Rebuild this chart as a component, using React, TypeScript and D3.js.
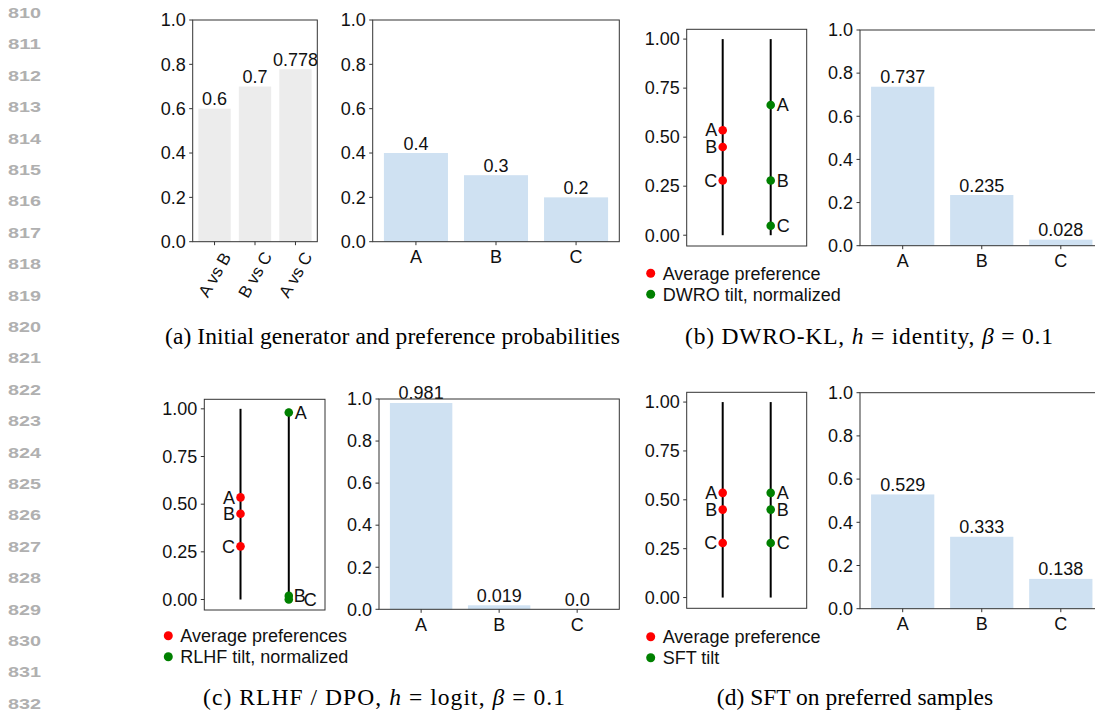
import React from "react";
import * as d3 from "d3";

// ---------- data ----------
const pairCats = ["A vs B", "B vs C", "A vs C"];
const pairProbs = [0.6, 0.7, 0.778];
const respCats = ["A", "B", "C"];
const initGen = [0.4, 0.3, 0.2];
const avgPref = [0.5356, 0.45, 0.2788];
const dwroTilt = [0.664, 0.279, 0.048];
const dwroPolicy = [0.737, 0.235, 0.028];
const rlhfTilt = [0.981, 0.019, 0.0];
const rlhfPolicy = [0.981, 0.019, 0.0];
const sftTilt = [0.5356, 0.45, 0.2788];
const sftPolicy = [0.529, 0.333, 0.138];
const barTicks = [0, 0.2, 0.4, 0.6, 0.8, 1.0];
const dotTicks = [0, 0.25, 0.5, 0.75, 1.0];
const lineNumbers = d3.range(810, 833);

const SANS = "'Liberation Sans', Arial, Helvetica, sans-serif";
const SERIF = "'Liberation Serif', 'Times New Roman', serif";
const FS = 18;
const AX = "#333";
const BLUE = "#cfe1f2";
const GRAY = "#ececec";

const fmtVal = (v: number) => (v === 0 ? "0.0" : String(v));

function BarPanel(props: {
  cats: string[]; vals: number[]; color: string;
  left: number; right: number; yTop: number; yBot: number;
  rotate?: boolean;
}) {
  const { cats, vals, color, left, right, yTop, yBot, rotate } = props;
  const x = d3.scaleLinear().domain([-0.54, cats.length - 1 + 0.54]).range([left, right]);
  const y = d3.scaleLinear().domain([0, 1]).range([yBot, yTop]);
  const f = d3.format(".1f");
  return (
    <g fontFamily={SANS} fontSize={FS}>
      {vals.map((v, i) => (
        <rect key={"b" + i} x={x(i - 0.4)} y={y(v)} width={x(i + 0.4) - x(i - 0.4)} height={y(0) - y(v)} fill={color} />
      ))}
      {vals.map((v, i) => (
        <text key={"v" + i} x={x(i)} y={y(v) - 3.5} textAnchor="middle" fill="#111">{fmtVal(v)}</text>
      ))}
      <rect x={left} y={yTop} width={right - left} height={yBot - yTop} fill="none" stroke={AX} strokeWidth={1} />
      {barTicks.map((t) => (
        <g key={"t" + t}>
          <line x1={left - 3.5} x2={left} y1={y(t)} y2={y(t)} stroke={AX} />
          <text x={left - 7} y={y(t)} dy="0.35em" textAnchor="end" fill="#111">{f(t)}</text>
        </g>
      ))}
      {cats.map((c, i) => (
        <g key={"c" + i}>
          <line x1={x(i)} x2={x(i)} y1={yBot} y2={yBot + 3.5} stroke={AX} />
          {rotate ? (
            <text x={0} y={0} textAnchor="middle" dy="0.35em" fill="#111" fontSize={17}
              transform={`translate(${x(i)},${yBot + 33}) rotate(-60)`}>{c}</text>
          ) : (
            <text x={x(i)} y={yBot + 21.5} textAnchor="middle" fill="#111">{c}</text>
          )}
        </g>
      ))}
    </g>
  );
}

function DotPanel(props: {
  left: number; right: number; top: number; bottom: number;
  red: number[]; green: number[]; greenDx?: number[]; greenDy?: number[];
  legend: [string, string]; legX: number; legY: number;
}) {
  const { left, right, top, bottom, red, green, legend, legX, legY } = props;
  const gdx = props.greenDx || [6, 6, 6];
  const gdy = props.greenDy || [0, 0, 0];
  const x = d3.scaleLinear().domain([-0.75, 1.75]).range([left, right]);
  const y = d3.scaleLinear().domain([-0.055, 1.05]).range([bottom, top]);
  const f = d3.format(".2f");
  return (
    <g fontFamily={SANS} fontSize={FS}>
      <rect x={left} y={top} width={right - left} height={bottom - top} fill="none" stroke={AX} strokeWidth={1} />
      {dotTicks.map((t) => (
        <g key={"t" + t}>
          <line x1={left - 3.5} x2={left} y1={y(t)} y2={y(t)} stroke={AX} />
          <text x={left - 7} y={y(t)} dy="0.35em" textAnchor="end" fill="#111">{f(t)}</text>
        </g>
      ))}
      {[0, 1].map((k) => (
        <line key={"l" + k} x1={x(k)} x2={x(k)} y1={y(0)} y2={y(1)} stroke="#000" strokeWidth={2} />
      ))}
      {red.map((v, i) => (
        <g key={"r" + i}>
          <circle cx={x(0)} cy={y(v)} r={4.3} fill="#ff0000" />
          <text x={x(0) - 5.5} y={y(v)} dy="0.35em" textAnchor="end" fill="#111">{respCats[i]}</text>
        </g>
      ))}
      {green.map((v, i) => (
        <g key={"g" + i}>
          <circle cx={x(1)} cy={y(v)} r={4.3} fill="#008000" />
          <text x={x(1) + gdx[i]} y={y(v) + gdy[i]} dy="0.35em" textAnchor="start" fill="#111">{respCats[i]}</text>
        </g>
      ))}
      <circle cx={legX} cy={legY} r={4.5} fill="#ff0000" />
      <text x={legX + 12} y={legY} dy="0.35em" fill="#111">{legend[0]}</text>
      <circle cx={legX} cy={legY + 21} r={4.5} fill="#008000" />
      <text x={legX + 12} y={legY + 21} dy="0.35em" fill="#111">{legend[1]}</text>
    </g>
  );
}

export default function App() {
  return (
    <svg width={1095} height={717} style={{ position: "absolute", left: 0, top: 0, background: "#fff" }}>
      <rect width={1095} height={717} fill="#fff" />
      {lineNumbers.map((n, i) => (
        <text key={n} x={8} y={13 + i * 31.4} dy="0.35em" fontFamily={SANS} fontWeight="bold" fontSize={14}
          fill="#b0b0b0" textLength={33} lengthAdjust="spacingAndGlyphs">{n}</text>
      ))}

      {/* (a) */}
      <BarPanel cats={pairCats} vals={pairProbs} color={GRAY} left={192.7} right={317.3} yTop={20} yBot={241.7} rotate />
      <BarPanel cats={respCats} vals={initGen} color={BLUE} left={372.7} right={619.3} yTop={20} yBot={241.7} />

      {/* (b) */}
      <DotPanel left={686.7} right={806.7} top={29.3} bottom={246} red={avgPref} green={dwroTilt}
        legend={["Average preference", "DWRO tilt, normalized"]} legX={650.7} legY={273.3} />
      <BarPanel cats={respCats} vals={dwroPolicy} color={BLUE} left={860} right={1103.5} yTop={30} yBot={245.7} />

      {/* (c) */}
      <DotPanel left={204.3} right={325} top={399.3} bottom={610} red={avgPref} green={rlhfTilt}
        greenDx={[6, 5, 15]} greenDy={[0, -0.5, 0]}
        legend={["Average preferences", "RLHF tilt, normalized"]} legX={168.3} legY={635.7} />
      <BarPanel cats={respCats} vals={rlhfPolicy} color={BLUE} left={379} right={619.3} yTop={399} yBot={609.3} />

      {/* (d) */}
      <DotPanel left={686.7} right={806.7} top={392.3} bottom={608.3} red={avgPref} green={sftTilt}
        legend={["Average preference", "SFT tilt"]} legX={650.7} legY={636.7} />
      <BarPanel cats={respCats} vals={sftPolicy} color={BLUE} left={860} right={1103.5} yTop={392.7} yBot={608.7} />

      {/* captions */}
      <g fontFamily={SERIF} fontSize={23.5} fill="#000">
        <text x={165} y={344} textLength={455} lengthAdjust="spacing">(a)  Initial generator and preference probabilities</text>
        <text x={685} y={344} textLength={368} lengthAdjust="spacing">(b)  DWRO-KL, <tspan fontStyle="italic">h</tspan> = identity, <tspan fontStyle="italic">β</tspan> = 0.1</text>
        <text x={203} y={705} textLength={362} lengthAdjust="spacing">(c)  RLHF / DPO, <tspan fontStyle="italic">h</tspan> = logit, <tspan fontStyle="italic">β</tspan> = 0.1</text>
        <text x={855} y={705} textAnchor="middle">(d)  SFT on preferred samples</text>
      </g>
    </svg>
  );
}
